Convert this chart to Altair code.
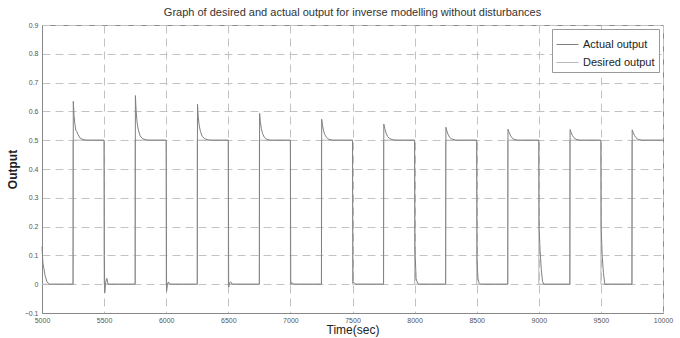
import altair as alt
import pandas as pd

# Desired output: square wave switching between 0 and 0.5 every 250 s
switch_times = [5250, 5500, 5750, 6000, 6250, 6500, 6750, 7000, 7250, 7500,
                7750, 8000, 8250, 8500, 8750, 9000, 9250, 9500, 9750]
start_level = 0.0
high_level = 0.5

# Actual output of the inverse model (sampled response)
actual_t = [
    5000, 5008, 5015, 5025, 5040, 5060, 5250,
    5252, 5258, 5265, 5272, 5280, 5290, 5305, 5330, 5360, 5500,
    5502, 5505, 5512, 5522, 5532, 5750,
    5752, 5758, 5766, 5776, 5790, 5810, 5840, 5870, 6000,
    6003, 6010, 6018, 6028, 6250,
    6252, 6258, 6266, 6276, 6290, 6310, 6340, 6370, 6500,
    6503, 6510, 6520, 6532, 6750,
    6752, 6758, 6766, 6776, 6790, 6810, 6840, 7000,
    7003, 7012, 7025, 7250,
    7252, 7258, 7266, 7276, 7290, 7310, 7340, 7500,
    7504, 7512, 7525, 7750,
    7752, 7760, 7770, 7782, 7800, 7830, 7860, 8000,
    8003, 8012, 8020, 8030, 8250,
    8252, 8260, 8270, 8282, 8300, 8330, 8500,
    8503, 8510, 8518, 8530, 8750,
    8752, 8760, 8770, 8782, 8800, 8830, 9000,
    9002, 9010, 9020, 9030, 9040, 9250,
    9252, 9260, 9270, 9282, 9300, 9330, 9500,
    9502, 9510, 9520, 9532, 9750,
    9752, 9760, 9770, 9782, 9800, 9830, 10000,
]
actual_y = [
    0.13, 0.07, 0.055, 0.03, 0.008, 0.0, 0.0,
    0.635, 0.585, 0.555, 0.535, 0.53, 0.52, 0.508, 0.502, 0.5, 0.5,
    0.1, -0.03, 0.005, 0.02, 0.0, 0.0,
    0.655, 0.6, 0.56, 0.535, 0.515, 0.505, 0.501, 0.5, 0.5,
    -0.025, 0.0, 0.008, 0.0, 0.0,
    0.625, 0.58, 0.55, 0.53, 0.513, 0.505, 0.501, 0.5, 0.5,
    -0.01, 0.005, 0.008, 0.0, 0.0,
    0.593, 0.565, 0.54, 0.523, 0.51, 0.503, 0.5, 0.5,
    0.0, 0.006, 0.0, 0.0,
    0.573, 0.553, 0.535, 0.52, 0.51, 0.503, 0.5, 0.5,
    0.005, 0.006, 0.0, 0.0,
    0.556, 0.54, 0.525, 0.513, 0.505, 0.501, 0.5, 0.5,
    0.12, 0.02, 0.008, 0.0, 0.0,
    0.545, 0.532, 0.52, 0.51, 0.504, 0.5, 0.5,
    0.08, 0.02, 0.006, 0.0, 0.0,
    0.538, 0.528, 0.518, 0.509, 0.503, 0.5, 0.5,
    0.2, 0.12, 0.05, 0.01, 0.0, 0.0,
    0.537, 0.527, 0.517, 0.509, 0.503, 0.5, 0.5,
    0.2, 0.1, 0.04, 0.0, 0.0,
    0.536, 0.526, 0.517, 0.509, 0.503, 0.5, 0.5,
]

x_ticks = [5000, 5500, 6000, 6500, 7000, 7500, 8000, 8500, 9000, 9500, 10000]
y_ticks = [-0.1, 0, 0.1, 0.2, 0.3, 0.4, 0.5, 0.6, 0.7, 0.8, 0.9]

series_names = ["Actual output", "Desired output"]
series_colors = ["#808080", "#b8b8b8"]

# Build the step-shaped desired signal
d_t, d_y = [5000], [start_level]
level = start_level
for t in switch_times:
    d_t.append(t)
    d_y.append(level)
    level = high_level if level == start_level else start_level
    d_t.append(t)
    d_y.append(level)
d_t.append(10000)
d_y.append(level)

desired = pd.DataFrame({"t": d_t, "y": d_y, "series": series_names[1], "o": range(len(d_t))})
actual = pd.DataFrame({"t": actual_t, "y": actual_y, "series": series_names[0], "o": range(len(actual_t))})

FONT = "Liberation Sans"

x_enc = alt.X("t:Q", scale=alt.Scale(domain=[5000, 10000], nice=False),
              axis=alt.Axis(values=x_ticks, title="Time(sec)", format="d", grid=True,
                            gridDash=[8, 5], gridColor="#c2c2c2", ticks=False,
                            domainColor="#888", labelFont=FONT, labelFontSize=7,
                            labelColor="#555", labelPadding=3, labelFlush=False,
                            titleFont=FONT, titleFontSize=12, titleFontWeight="normal",
                            titleColor="#222", titlePadding=1))
y_enc = alt.Y("y:Q", scale=alt.Scale(domain=[-0.1, 0.9], nice=False),
              axis=alt.Axis(values=y_ticks, title="Output", format="~g", grid=True,
                            gridDash=[8, 5], gridColor="#c2c2c2", ticks=False,
                            domainColor="#888", labelFont=FONT, labelFontSize=7,
                            labelColor="#555", labelPadding=4, labelFlush=False,
                            titleFont=FONT, titleFontSize=12, titleFontWeight="bold",
                            titleColor="#222", titlePadding=5))
color_enc = alt.Color("series:N",
                      scale=alt.Scale(domain=series_names, range=series_colors),
                      legend=alt.Legend(title=None, orient="none", legendX=510, legendY=4,
                                        symbolType="stroke", symbolSize=480,
                                        symbolStrokeWidth=1, labelFontSize=11,
                                        labelFont=FONT, labelColor="#222",
                                        fillColor="white", strokeColor="#999",
                                        padding=4, rowPadding=1, labelOffset=4))

desired_line = alt.Chart(desired).mark_line(strokeWidth=1).encode(
    x=x_enc, y=y_enc, color=color_enc, order="o:Q")
actual_line = alt.Chart(actual).mark_line(strokeWidth=1).encode(
    x=x_enc, y=y_enc, color=color_enc, order="o:Q")

chart = alt.layer(desired_line, actual_line).properties(
    width=621, height=288,
    background="white",
    title=alt.TitleParams("Graph of desired and actual output for inverse modelling without disturbances",
                          font=FONT, fontSize=11, fontWeight="normal", color="#333", offset=3),
    autosize=alt.AutoSizeParams(type="none"),
    padding={"left": 42, "top": 25, "right": 17, "bottom": 25},
).configure_view(stroke="#888", strokeWidth=1)

chart.save("out.html", embed_options={"renderer": "svg", "actions": False})
